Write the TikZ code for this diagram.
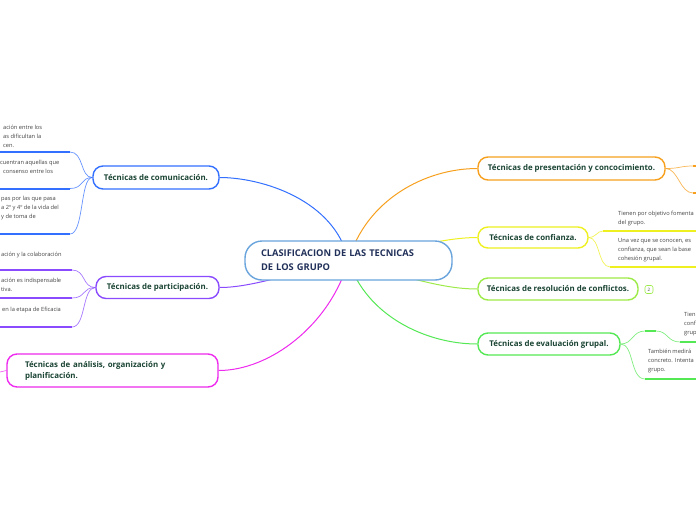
\documentclass[tikz,border=0pt]{standalone}
\usepackage{fontspec}
\setmainfont{Open Sans}
\definecolor{cblue}{HTML}{3370FF}
\definecolor{cpurple}{HTML}{8A4BFF}
\definecolor{cmag}{HTML}{EE2BEE}
\definecolor{corange}{HTML}{F7A01E}
\definecolor{cyellow}{HTML}{EEF020}
\definecolor{clgreen}{HTML}{9DEB48}
\definecolor{cgreen}{HTML}{55E855}
\definecolor{ccentral}{HTML}{6AA4DC}
\definecolor{tnode}{HTML}{1A4433}
\definecolor{tcentral}{HTML}{22315A}
\definecolor{tsub}{HTML}{444444}
\tikzset{
  topic/.style={draw=#1, line width=1.4pt, rounded corners=10pt, fill=white,
    text=tnode, font=\fontsize{7.9}{11}\selectfont\bfseries, inner sep=0pt},
  conn/.style={draw=#1, line width=1pt},
  subconn/.style={draw=#1, line width=0.7pt, opacity=0.75},
  uline/.style={draw=#1, line width=2pt},
  subtext/.style={text=tsub, font=\fontsize{5.7}{9}\selectfont, inner sep=0pt, align=left, anchor=north west},
}
\begin{document}
\begin{tikzpicture}[x=1pt,y=-1pt]
\useasboundingbox (0,0) rectangle (696,520);
\clip (0,0) rectangle (696,520);
\fill[white] (0,0) rectangle (696,520);

% central anchor
\coordinate (C) at (348.5,260.5);

% topic nodes
\node[topic=cblue, minimum width=126pt, minimum height=23pt] (com) at (156,177.5) {Técnicas de comunicación.};
\node[topic=cpurple, minimum width=123pt, minimum height=22pt] (par) at (157.5,287.5) {Técnicas de participación.};
\node[topic=cmag, minimum width=211pt, minimum height=33pt, align=left, text width=175pt] (ana) at (112.5,370.5) {Técnicas de análisis, organización y\\planificación.};
\node[topic=corange, minimum width=187pt, minimum height=23pt] (pre) at (571.5,168.5) {Técnicas de presentación y concocimiento.};
\node[topic=cyellow, minimum width=110pt, minimum height=21pt] (con) at (533,237.5) {Técnicas de confianza.};
\node[topic=clgreen, minimum width=160pt, minimum height=22pt] (res) at (558,289) {Técnicas de resolución de conflictos.};
\node[topic=cgreen, minimum width=142pt, minimum height=22pt] (eva) at (549,344) {Técnicas de evaluación grupal.};

% connectors from central (drawn behind central node)
\draw[conn=cblue] (C) .. controls (335,200) and (262,177.5) .. (com.east);
\draw[conn=cpurple] (C) .. controls (285,275) and (250,287.5) .. (par.east);
\draw[conn=cmag] (C) .. controls (330,325) and (270,370.5) .. (ana.east);
\draw[conn=corange] (C) .. controls (366,200) and (425,168.5) .. (pre.west);
\draw[conn=cyellow] (C) .. controls (420,245) and (450,237.5) .. (con.west);
\draw[conn=clgreen] (C) .. controls (420,282) and (450,289) .. (res.west);
\draw[conn=cgreen] (C) .. controls (366,315) and (425,344) .. (eva.west);

% central node
\node[draw=ccentral, line width=1.4pt, rounded corners=17pt, fill=white, minimum width=207pt, minimum height=39pt,
  text=tcentral, font=\fontsize{9.3}{14}\selectfont\bfseries, align=left, text width=175pt, inner sep=0pt] (central) at (C)
  {CLASIFICACION DE LAS TECNICAS\\DE LOS GRUPO};

% --- comunicacion subtopics
\coordinate (b1) at (70,152); \coordinate (b2) at (70,188.5); \coordinate (b3) at (70,234);
\draw[subconn=cblue] (com.west) .. controls (80,177.5) and (84,152) .. (b1);
\draw[subconn=cblue] (com.west) .. controls (80,177.5) and (84,188.5) .. (b2);
\draw[subconn=cblue] (com.west) .. controls (80,177.5) and (84,234) .. (b3);
\coordinate (b1l) at (0,152); \coordinate (b2l) at (0,188.5); \coordinate (b3l) at (0,234);
\draw[uline=cblue] (b1l) -- (b1);
\draw[uline=cblue] (b2l) -- (b2);
\draw[uline=cblue] (b3l) -- (b3);
\node[subtext] (t1) at (3,124.5) {ación entre los\\as dificultan la\\cen.};
\node[subtext] (t2) at (0,159.5) {cuentran aquellas que\\\ \ consenso entre los};
\node[subtext] (t3) at (1,195.5) {pas por las que pasa\\a 2º y 4º de la vida del\\y de toma de};

% --- participacion subtopics
\coordinate (p1) at (72,270); \coordinate (p2) at (72,298); \coordinate (p3) at (72,327);
\draw[subconn=cpurple] (par.west) .. controls (82,287.5) and (86,270) .. (p1);
\draw[subconn=cpurple] (par.west) .. controls (82,287.5) and (86,298) .. (p2);
\draw[subconn=cpurple] (par.west) .. controls (82,287.5) and (86,327) .. (p3);
\coordinate (p1l) at (0,270); \coordinate (p2l) at (0,298); \coordinate (p3l) at (0,327);
\draw[uline=cpurple] (p1l) -- (p1);
\draw[uline=cpurple] (p2l) -- (p2);
\draw[uline=cpurple] (p3l) -- (p3);
\node[subtext] (t4) at (1,251.5) {ación y la colaboración};
\node[subtext] (t5) at (1,277.5) {ación es indispensable\\tiva.};
\node[subtext] (t6) at (2,306.5) {en la etapa de Eficacia};

% --- analisis stub
\coordinate (a1) at (0,372);
\draw[subconn=cmag] (ana.west) -- (a1);

% --- presentacion subtopics
\coordinate (o1) at (693,166); \coordinate (o2) at (693,193);
\coordinate (o1r) at (696,166); \coordinate (o2r) at (696,193);
\draw[subconn=corange] (pre.east) .. controls (680,168.5) and (680,166) .. (o1);
\draw[subconn=corange] (pre.east) .. controls (678,168.5) and (680,193) .. (o2);
\draw[uline=corange] (o1) -- (o1r);
\draw[uline=corange] (o2) -- (o2r);

% --- confianza subtopics
\coordinate (y1) at (603,231); \coordinate (y2) at (610,267);
\coordinate (y1r) at (696,231); \coordinate (y2r) at (696,267);
\draw[subconn=cyellow] (con.east) .. controls (596,237.5) and (597,231) .. (y1);
\draw[subconn=cyellow] (con.east) .. controls (600,237.5) and (598,267) .. (y2);
\draw[uline=cyellow] (y1) -- (y1r);
\draw[uline=cyellow] (y2) -- (y2r);
\node[subtext] (t7) at (618,210.5) {Tienen por objetivo fomenta\\del grupo.};
\node[subtext] (t8) at (618,238.5) {Una vez que se conocen, es\\confianza, que sean la base\\cohesión grupal.};

% --- resolucion badge
\node[draw=clgreen, line width=0.6pt, rounded corners=2pt, minimum width=8pt, minimum height=8pt, inner sep=0pt,
  text=tsub, font=\fontsize{4.5}{5}\selectfont] (badge) at (649,289.5) {2};

% --- evaluacion subtopics
\coordinate (g1) at (645,331); \coordinate (g1e) at (656,331);
\coordinate (g2) at (680,342); \coordinate (g2r) at (696,342);
\coordinate (g3) at (645,379); \coordinate (g3r) at (696,379);
\draw[subconn=cgreen] (eva.east) .. controls (633,344) and (632,331) .. (g1);
\draw[uline=cgreen] (g1) -- (g1e);
\draw[subconn=cgreen] (g1e) .. controls (668,331) and (667,342) .. (g2);
\draw[uline=cgreen] (g2) -- (g2r);
\draw[subconn=cgreen] (eva.east) .. controls (634,344) and (630,379) .. (g3);
\draw[uline=cgreen] (g3) -- (g3r);
\node[subtext] (t9) at (684,312.5) {Tien\\conf\\grup};
\node[subtext] (t10) at (648,348.5) {También medirá\\concreto. Intenta\\grupo.};
\end{tikzpicture}
\end{document}
